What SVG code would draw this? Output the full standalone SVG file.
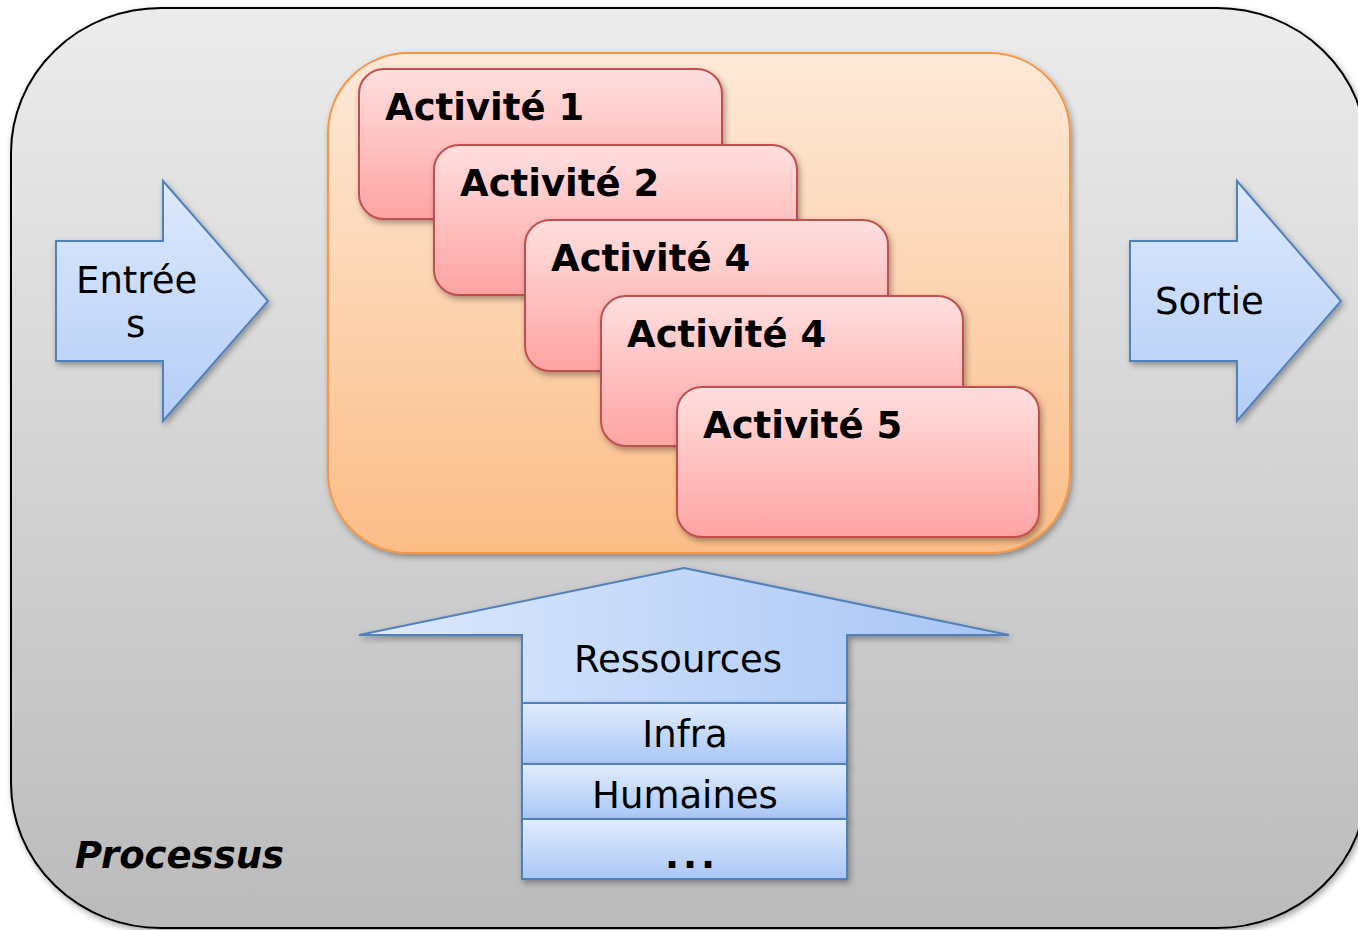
<svg xmlns="http://www.w3.org/2000/svg" width="1358" height="930" viewBox="0 0 1358 930">
<defs>
<linearGradient id="gMain" x1="0" y1="0" x2="0" y2="1"><stop offset="0" stop-color="#ececec"/><stop offset="1" stop-color="#bbbbbb"/></linearGradient>
<linearGradient id="gOrange" x1="0" y1="0" x2="0" y2="1"><stop offset="0" stop-color="#fee9d8"/><stop offset="1" stop-color="#fbbd87"/></linearGradient>
<linearGradient id="gAct" x1="0" y1="0" x2="0" y2="1"><stop offset="0" stop-color="#ffdfdf"/><stop offset="1" stop-color="#ffa3a3"/></linearGradient>
<linearGradient id="gArrow" x1="0" y1="0" x2="0" y2="1"><stop offset="0" stop-color="#dde9fd"/><stop offset="1" stop-color="#b4cdf7"/></linearGradient>
<linearGradient id="gRes" x1="0" y1="0" x2="1" y2="0"><stop offset="0" stop-color="#dde9fd"/><stop offset="1" stop-color="#a7c5f5"/></linearGradient>
<linearGradient id="gStripe" x1="0" y1="0" x2="0" y2="1"><stop offset="0" stop-color="#e2ecfd"/><stop offset="1" stop-color="#a9c7f6"/></linearGradient>
<filter id="sh" x="-10%" y="-10%" width="130%" height="130%"><feDropShadow dx="2" dy="3" stdDeviation="3" flood-color="#000" flood-opacity="0.35"/></filter>
</defs>
<style>
.act{fill:url(#gAct);stroke:#c0504d;stroke-width:2;filter:url(#sh)}
.blue{stroke:#4f81bd;stroke-width:2;filter:url(#sh)}
.tb{font-family:"DejaVu Sans",Verdana,sans-serif;font-weight:bold;font-size:37px;fill:#000}
.tr{font-family:"DejaVu Sans",Verdana,sans-serif;font-size:37px;fill:#000}
</style>
<rect width="1358" height="930" fill="#ffffff"/>
<g id="processus">
<rect x="11" y="8" width="1356" height="920" rx="150" ry="145" fill="url(#gMain)" stroke="#000" stroke-width="2" filter="url(#sh)"/>
<text class="tb" x="75" y="868" font-style="italic" textLength="209">Processus</text>
</g>
<g id="activites">
<rect x="328" y="53" width="742" height="500" rx="80" ry="80" fill="url(#gOrange)" stroke="#f79646" stroke-width="2" filter="url(#sh)"/>
</g>
<g id="act1"><rect class="act" x="359" y="69" width="363" height="150" rx="25"/><text class="tb" x="385" y="120">Activité 1</text></g>
<g id="act2"><rect class="act" x="434" y="145" width="363" height="150" rx="25"/><text class="tb" x="460" y="196">Activité 2</text></g>
<g id="act3"><rect class="act" x="525" y="220" width="363" height="151" rx="25"/><text class="tb" x="551" y="271">Activité 4</text></g>
<g id="act4"><rect class="act" x="601" y="296" width="362" height="150" rx="25"/><text class="tb" x="627" y="347">Activité 4</text></g>
<g id="act5"><rect class="act" x="677" y="387" width="362" height="150" rx="25"/><text class="tb" x="703" y="438">Activité 5</text></g>
<g id="entrees">
<path class="blue" fill="url(#gArrow)" d="M56,241 H163 V181 L268,301 L163,421 V361 H56 Z"/>
<text class="tr" x="76" y="293">Entrée</text>
<text class="tr" x="126" y="337">s</text>
</g>
<g id="sortie">
<path class="blue" fill="url(#gArrow)" d="M1130,241 H1237 V181 L1341,301 L1237,421 V361 H1130 Z"/>
<text class="tr" x="1155" y="314">Sortie</text>
</g>
<g id="ressources">
<path class="blue" fill="url(#gRes)" d="M522,703 V635 H359 L684,568 L1009,635 H847 V703 Z"/>
<text class="tr" x="678" y="672" text-anchor="middle">Ressources</text>
</g>
<g id="infra"><rect class="blue" x="522" y="703" width="325" height="61" fill="url(#gStripe)"/><text class="tr" x="685" y="747" text-anchor="middle">Infra</text></g>
<g id="humaines"><rect class="blue" x="522" y="764" width="325" height="55" fill="url(#gStripe)"/><text class="tr" x="685" y="808" text-anchor="middle">Humaines</text></g>
<g id="autres"><rect class="blue" x="522" y="819" width="325" height="60" fill="url(#gStripe)"/><text class="tr" x="665" y="868" letter-spacing="4" font-weight="bold">...</text></g>
<g id="connectors"/>
</svg>
